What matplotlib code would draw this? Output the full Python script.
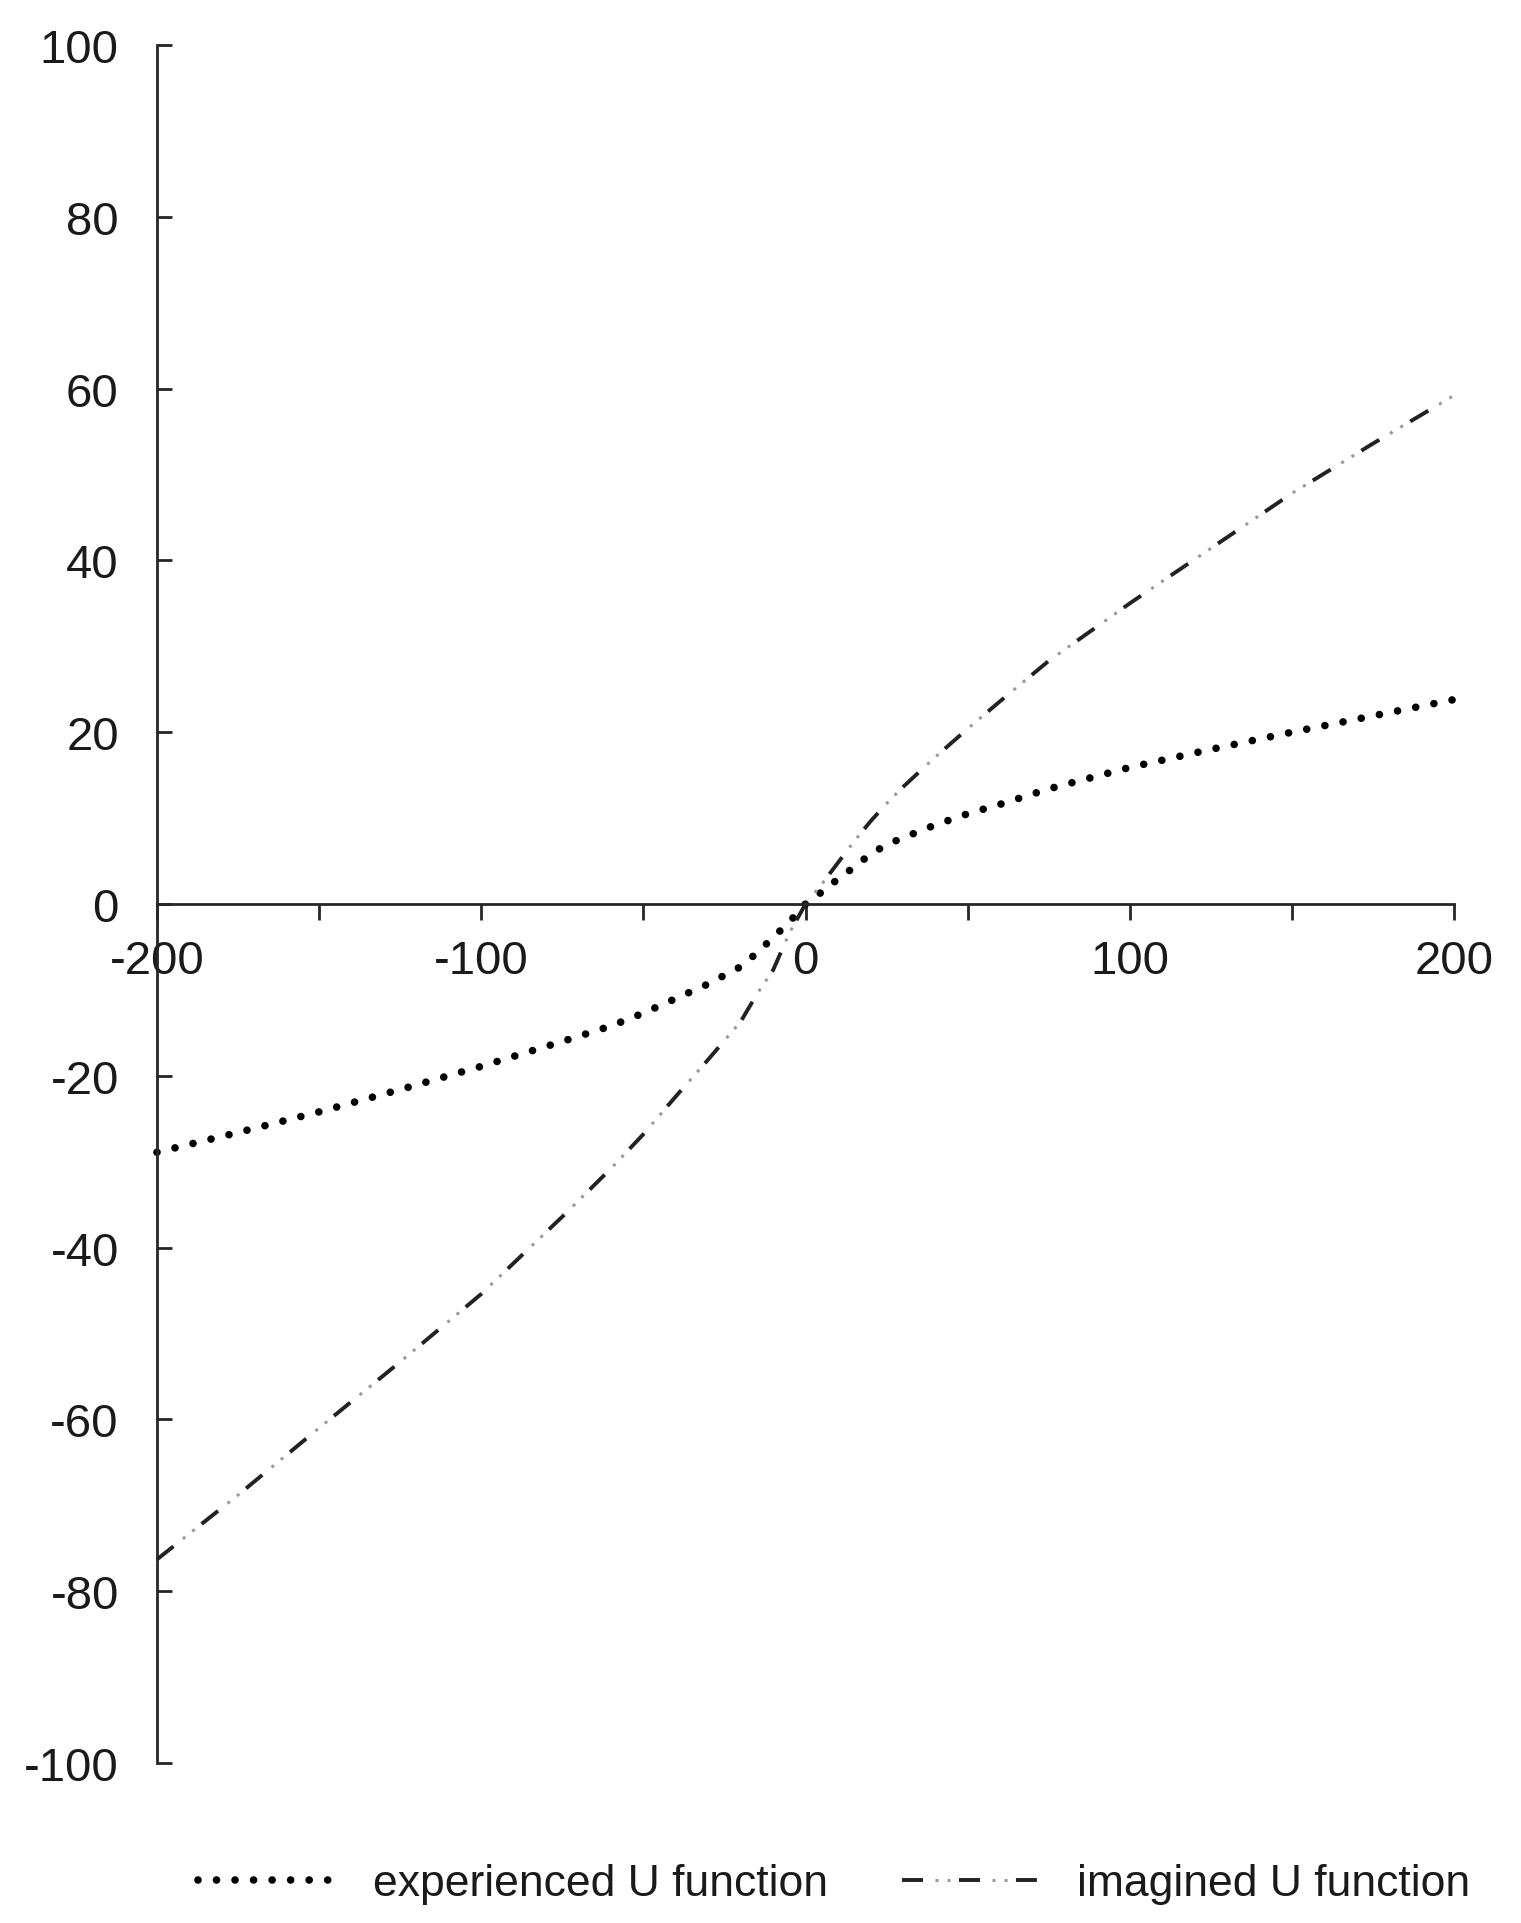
import numpy as np
import matplotlib
matplotlib.use('Agg')
import matplotlib.pyplot as plt
from matplotlib.ticker import MultipleLocator, NullFormatter
from matplotlib.legend_handler import HandlerTuple

plt.rcParams['font.family'] = ['Liberation Sans', 'DejaVu Sans']
plt.rcParams['axes.unicode_minus'] = False
plt.rcParams['path.simplify'] = False

# ---- data ----
x_vals = [-200, -175, -150, -125, -100, -75, -60, -50, -40, -30, -20, -15, -10, -5,
          0, 5, 10, 15, 20, 25, 30, 40, 50, 60, 75, 100, 125, 150, 175, 200]
experienced = [-28.9, -26.6, -24.2, -21.6, -18.9, -16.0, -14.2, -12.7, -11.0, -9.3,
               -7.3, -5.7, -3.9, -2.1, 0.0, 1.4, 2.9, 4.3, 5.8, 6.9, 7.7, 9.2, 10.5,
               11.6, 13.4, 15.9, 18.0, 20.0, 21.9, 23.8]
imagined = [-76.3, -68.8, -61.0, -53.3, -45.4, -36.4, -30.8, -26.8, -22.4, -18.1,
            -13.7, -10.5, -7.7, -3.4, 0.0, 2.3, 4.8, 7.3, 9.6, 11.7, 13.6, 17.1, 20.4,
            23.6, 28.3, 35.0, 41.4, 47.8, 53.6, 59.2]
series_labels = ['experienced U function', 'imagined U function']
x_ticks = [-200, -100, 0, 100, 200]
y_ticks = [-100, -80, -60, -40, -20, 0, 20, 40, 60, 80, 100]

W, H = 1521, 1924
fig = plt.figure(figsize=(W / 100, H / 100), dpi=100)
ax = fig.add_axes([157 / W, 1 - 1764 / H, (1454 - 157) / W, (1764 - 46) / H])
ax.set_xlim(-200, 200)
ax.set_ylim(-100, 100)

# choose dot spacing so that a dot falls on both ends of the curve
dot_lw = 5.5
dot_lw_px = dot_lw * 100 / 72
pix = ax.transData.transform(np.column_stack([x_vals, experienced]))
path_len = np.sum(np.hypot(np.diff(pix[:, 0]), np.diff(pix[:, 1])))
n_dots = max(1, int(round(path_len / 18.5)))
period = (path_len - 2.0) / n_dots / dot_lw_px

spine_col = '#262626'
# experienced: round dots
l_exp, = ax.plot(x_vals, experienced, color='black', lw=dot_lw,
                 linestyle=(0, (0.001, period - 0.001)), dash_capstyle='round',
                 clip_on=False)
# imagined: dash + two light dots
l_imd, = ax.plot(x_vals, imagined, color='#222222', lw=2.8,
                 linestyle=(0, (5.4, 9.25)), dash_capstyle='butt', clip_on=False)
l_imp, = ax.plot(x_vals, imagined, color='#9a9a9a', lw=2.2,
                 linestyle=(7.85, (1.0, 2.95, 1.0, 13.7)), dash_capstyle='butt',
                 clip_on=False)

ax.spines['top'].set_visible(False)
ax.spines['right'].set_visible(False)
ax.spines['bottom'].set_position(('data', 0))
for s in ('left', 'bottom'):
    ax.spines[s].set_linewidth(2.0)
    ax.spines[s].set_color(spine_col)

ax.set_xticks(x_ticks)
ax.xaxis.set_minor_locator(MultipleLocator(50))
ax.xaxis.set_minor_formatter(NullFormatter())
ax.set_yticks(y_ticks)
ax.tick_params(axis='x', which='both', direction='out', length=11.5, width=2.0,
               color=spine_col, pad=14, labelsize=34)
ax.tick_params(axis='y', which='both', direction='in', length=11, width=2.0,
               color=spine_col, pad=27.5, labelsize=34)
for lab in ax.get_xticklabels() + ax.get_yticklabels():
    lab.set_color('#1a1a1a')

leg = fig.legend([l_exp, (l_imd, l_imp)], series_labels,
                 handler_map={tuple: HandlerTuple(ndivide=1, pad=0)},
                 loc='center left', bbox_to_anchor=(198 / W, 1 - 1885 / H),
                 ncol=2, frameon=False, fontsize=32, handlelength=3.3,
                 handletextpad=0.63, columnspacing=1.67, borderpad=0,
                 borderaxespad=0)
for t in leg.get_texts():
    t.set_color('#1a1a1a')

fig.savefig('out.png', dpi=100)
